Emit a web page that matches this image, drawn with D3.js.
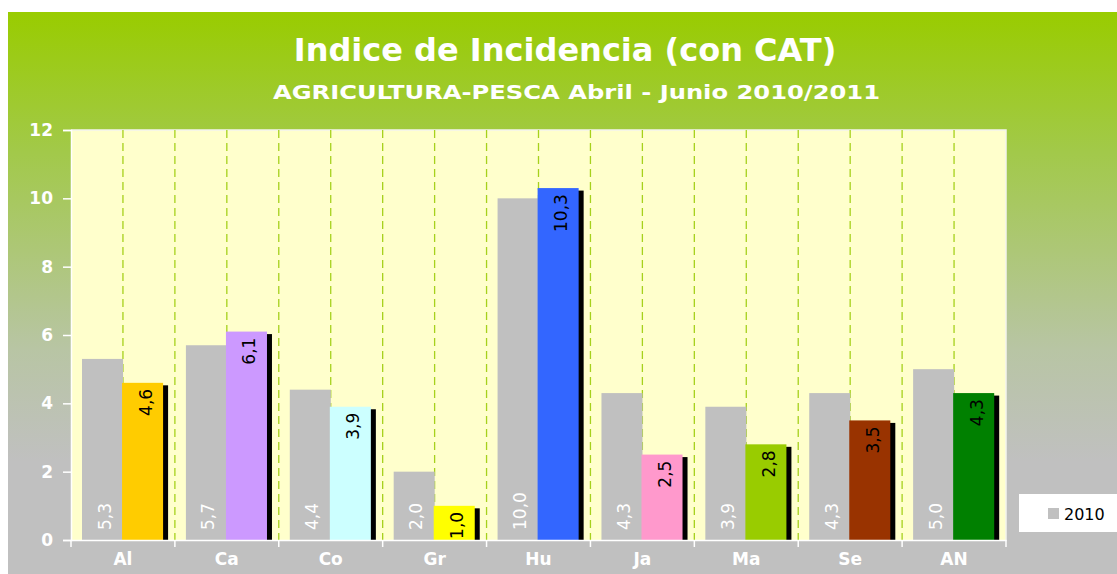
<!DOCTYPE html>
<html><head><meta charset="utf-8">
<script src="https://cdn.jsdelivr.net/npm/d3@7"></script>
<style>html,body{margin:0;padding:0;background:#fff;}svg{display:block;}</style>
</head><body>
<svg id="c" width="1117" height="574"></svg>
<script>
const categories = ["Al","Ca","Co","Gr","Hu","Ja","Ma","Se","AN"];
const values2010 = [5.3,5.7,4.4,2.0,10.0,4.3,3.9,4.3,5.0];
const values2011 = [4.6,6.1,3.9,1.0,10.3,2.5,2.8,3.5,4.3];
const colors2011 = ["#ffcc00","#cc99ff","#ccffff","#ffff00","#3366ff","#ff99cc","#99cc00","#993300","#008000"];
const yTicks = [0,2,4,6,8,10,12];
const title = "Indice de Incidencia (con CAT)";
const subtitle = "AGRICULTURA-PESCA Abril - Junio 2010/2011";
const legendLabel = "2010";

(function(){
const svg = d3.select("#c");
const defs = svg.append("defs");
const grad = defs.append("linearGradient").attr("id","bg").attr("x1",0).attr("y1",0).attr("x2",0).attr("y2",1);
grad.append("stop").attr("offset","0%").attr("stop-color","#99cc00");
grad.append("stop").attr("offset","25%").attr("stop-color","#a2c94a");
grad.append("stop").attr("offset","60%").attr("stop-color","#b8c5a4");
grad.append("stop").attr("offset","80%").attr("stop-color","#c0c0c0");
grad.append("stop").attr("offset","100%").attr("stop-color","#c0c0c0");

svg.append("rect").attr("x",8).attr("y",12).attr("width",1109).attr("height",562).attr("fill","url(#bg)");

const font = "'DejaVu Sans', Verdana, sans-serif";
svg.append("text").attr("x",565).attr("y",61).attr("text-anchor","middle")
  .attr("font-family",font).attr("font-weight","bold").attr("font-size",32).attr("fill","#fff").text(title);
svg.append("text").attr("x",576.5).attr("y",99).attr("text-anchor","middle")
  .attr("textLength",607).attr("lengthAdjust","spacingAndGlyphs")
  .attr("font-family",font).attr("font-weight","bold").attr("font-size",19).attr("fill","#fff").text(subtitle);

const pL = 71, pR = 1006, pT = 130, pB = 540;
const x = d3.scaleBand().domain(categories).range([pL,pR]).padding(0);
const y = d3.scaleLinear().domain([0,12]).range([pB,pT]);

svg.append("rect").attr("x",pL).attr("y",pT).attr("width",pR-pL).attr("height",pB-pT)
  .attr("fill","#ffffcc");
svg.append("path").attr("d",`M${pL},${pT}H${pR}V${pB}`).attr("fill","none").attr("stroke","#f4f4ee").attr("stroke-width",1.5);

const bw = x.bandwidth();
const gridX = [];
categories.forEach((c,i)=>{ gridX.push(x(c)+bw/2); if(i<categories.length-1) gridX.push(x(c)+bw); });
svg.append("g").selectAll("line").data(gridX).join("line")
  .attr("x1",d=>d).attr("x2",d=>d).attr("y1",pT).attr("y2",pB)
  .attr("stroke","#a6d11c").attr("stroke-width",1.3).attr("stroke-dasharray","8,5");

const barW = bw*0.395;
const g = svg.append("g");
const fmt = v=>v.toFixed(1).replace(".",",");
categories.forEach((c,i)=>{
  const x0 = x(c) + bw*0.106;
  const x1 = x0 + barW - 1;
  g.append("rect").attr("x",x0).attr("y",y(values2010[i])).attr("width",barW).attr("height",pB-y(values2010[i])).attr("fill","#c0c0c0");
  g.append("rect").attr("x",x1+5).attr("y",y(values2011[i])+2.5).attr("width",barW).attr("height",pB-y(values2011[i])-2.5).attr("fill","#000");
  g.append("rect").attr("x",x1).attr("y",y(values2011[i])).attr("width",barW).attr("height",pB-y(values2011[i])).attr("fill",colors2011[i]);
  g.append("text").attr("transform",`translate(${x0+barW/2+2},${pB-10}) rotate(-90)`)
    .attr("dominant-baseline","central").attr("text-anchor","start")
    .attr("font-family",font).attr("font-size",17).attr("fill","#fff").text(fmt(values2010[i]));
  g.append("text").attr("transform",`translate(${x1+barW/2+3},${y(values2011[i])+6}) rotate(-90)`)
    .attr("dominant-baseline","central").attr("text-anchor","end")
    .attr("font-family",font).attr("font-size",17).attr("fill","#000").text(fmt(values2011[i]));
});

const yAxis = d3.axisLeft(y).tickValues(yTicks).tickSize(8).tickFormat(d3.format("d"));
const ya = svg.append("g").attr("transform",`translate(${pL},0)`).call(yAxis);
ya.select(".domain").attr("stroke","#fff").attr("stroke-width",1.5);
ya.selectAll(".tick line").attr("stroke","#fff").attr("stroke-width",1.5);
ya.selectAll(".tick text").attr("x",-18).attr("fill","#fff").attr("font-family",font).attr("font-weight","bold").attr("font-size",17);

const xAxis = d3.axisBottom(x).tickSize(0);
const xa = svg.append("g").attr("transform",`translate(0,${pB})`).call(xAxis);
xa.select(".domain").attr("stroke","#fff").attr("stroke-width",1.5);
xa.selectAll(".tick text").attr("y",13).attr("fill","#fff").attr("font-family",font).attr("font-weight","bold").attr("font-size",17);
const bounds = categories.map(c=>x(c)).concat([pR]);
svg.append("g").selectAll("line").data(bounds).join("line")
  .attr("x1",d=>d).attr("x2",d=>d).attr("y1",pB).attr("y2",pB+7).attr("stroke","#fff").attr("stroke-width",1.5);

svg.append("rect").attr("x",1019).attr("y",494).attr("width",110).attr("height",38).attr("fill","#fff");
svg.append("rect").attr("x",1048).attr("y",508).attr("width",11).attr("height",11).attr("fill","#c0c0c0");
svg.append("text").attr("x",1064).attr("y",520).attr("font-family",font).attr("font-size",16).attr("fill","#000").text(legendLabel);
})();
</script>
</body></html>
